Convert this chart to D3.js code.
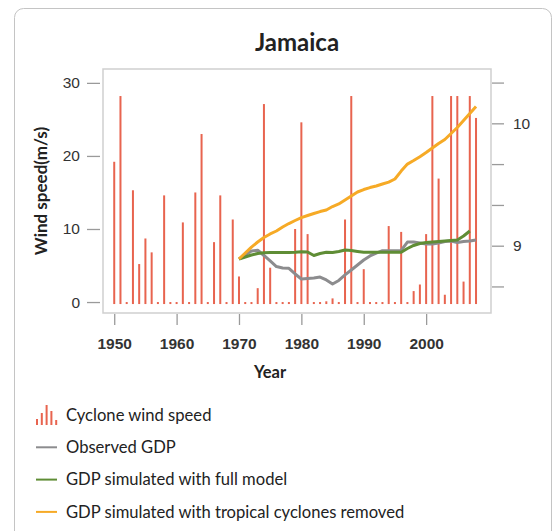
<!DOCTYPE html>
<html>
<head>
<meta charset="utf-8">
<script src="https://cdn.jsdelivr.net/npm/d3@7"></script>
<style>
  body { margin: 0; background: #fff; }
  svg { font-family: "Source Sans Pro", Lato, "Noto Sans", sans-serif; }
</style>
</head>
<body>
<div id="chart"></div>
<script>
var windYears = [1950, 1951, 1952, 1953, 1954, 1955, 1956, 1957, 1958, 1959,
                 1960, 1961, 1962, 1963, 1964, 1965, 1966, 1967, 1968, 1969,
                 1970, 1971, 1972, 1973, 1974, 1975, 1976, 1977, 1978, 1979,
                 1980, 1981, 1982, 1983, 1984, 1985, 1986, 1987, 1988, 1989,
                 1990, 1991, 1992, 1993, 1994, 1995, 1996, 1997, 1998, 1999,
                 2000, 2001, 2002, 2003, 2004, 2005, 2006, 2007, 2008];
var windSpeed = [19.2, 28.2, 0, 15.3, 5.2, 8.7, 6.8, 0, 14.6, 0,
                 0, 10.9, 0, 15.0, 23.0, 0, 8.2, 14.6, 0, 11.3,
                 3.5, 0, 0, 1.9, 27.1, 4.7, 0, 0, 0, 10.0,
                 24.6, 9.3, 0, 0, 0.1, 0.5, 0, 11.3, 28.2, 0,
                 4.5, 0, 0, 0, 10.4, 0, 9.6, 0, 1.5, 2.4,
                 9.3, 28.2, 16.9, 1.0, 28.2, 28.2, 2.8, 28.2, 25.2];

var gdpYears = [1970, 1971, 1972, 1973, 1974, 1975, 1976, 1977, 1978, 1979,
                1980, 1981, 1982, 1983, 1984, 1985, 1986, 1987, 1988, 1989,
                1990, 1991, 1992, 1993, 1994, 1995, 1996, 1997, 1998, 1999,
                2000, 2001, 2002, 2003, 2004, 2005, 2006, 2007, 2008];
var observedGdp = [8.891, 8.924, 8.957, 8.963, 8.920, 8.875, 8.830, 8.818, 8.815, 8.769,
                   8.728, 8.732, 8.736, 8.744, 8.720, 8.687, 8.716, 8.761, 8.801, 8.842,
                   8.883, 8.916, 8.940, 8.959, 8.959, 8.959, 8.961, 9.030, 9.030, 9.022,
                   9.014, 9.014, 9.022, 9.034, 9.038, 9.026, 9.034, 9.038, 9.047];
var fullModelGdp = [8.891, 8.908, 8.924, 8.936, 8.943, 8.944, 8.944, 8.944, 8.944, 8.946,
                    8.951, 8.949, 8.920, 8.936, 8.946, 8.944, 8.953, 8.965, 8.961, 8.953,
                    8.946, 8.946, 8.946, 8.946, 8.946, 8.946, 8.946, 8.977, 9.002, 9.018,
                    9.026, 9.030, 9.034, 9.038, 9.042, 9.047, 9.079, 9.120];
var noCycloneGdp = [8.891, 8.940, 8.989, 9.030, 9.067, 9.096, 9.120, 9.153, 9.181, 9.206,
                    9.230, 9.247, 9.263, 9.279, 9.292, 9.320, 9.341, 9.373, 9.406, 9.439,
                    9.459, 9.475, 9.488, 9.504, 9.520, 9.545, 9.610, 9.667, 9.696, 9.727,
                    9.761, 9.798, 9.835, 9.868, 9.917, 9.966, 10.023, 10.080, 10.137];

var xTicks = [1950, 1960, 1970, 1980, 1990, 2000];
var windTicks = [0, 10, 20, 30];
var gdpTicks = [8.667, 9, 9.333, 9.667, 10, 10.333];
var gdpTickLabels = ["", "9", "", "", "10", ""];

var legendLabels = ["Cyclone wind speed", "Observed GDP",
                    "GDP simulated with full model",
                    "GDP simulated with tropical cyclones removed"];
var legendIconBars = [6, 12, 20, 14, 5];

var width = 560, height = 531;
var margin = { top: 69, right: 69, bottom: 218, left: 103 };
var mwidth = width - margin.left - margin.right;
var mheight = height - margin.top - margin.bottom;

var barColor = "#e8644f",
    observedColor = "#8c8c8e",
    fullColor = "#5f8d35",
    noCycloneColor = "#f6aa26";

var svg = d3.select("#chart").append("svg")
    .attr("width", width)
    .attr("height", height);

// card border
svg.append("rect")
    .attr("x", 14.5).attr("y", 8.5)
    .attr("width", 537).attr("height", 560)
    .attr("rx", 9)
    .attr("fill", "#fff")
    .attr("stroke", "#c4c4c4")
    .attr("stroke-width", 1);

svg.append("text")
    .attr("x", margin.left + mwidth / 2)
    .attr("y", 51)
    .attr("text-anchor", "middle")
    .style("font-size", "24px")
    .style("font-weight", "bold")
    .style("fill", "#222")
    .text("Jamaica");

var xScale = d3.scaleLinear().domain([1948.2, 2010.4]).range([0, mwidth]);
var yWind = d3.scaleLinear().domain([-1.5, 31.9]).range([mheight, 0]);
var yGdp = d3.scaleLinear().domain([8.45, 10.444]).range([mheight, 0]);

var g = svg.append("g")
    .attr("transform", "translate(" + margin.left + "," + margin.top + ")");

// frame
g.append("rect")
    .attr("width", mwidth)
    .attr("height", mheight)
    .attr("fill", "none")
    .attr("stroke", "#cfcfcf")
    .attr("stroke-width", 1.5);

// axes
var leftAxis = g.append("g")
    .attr("transform", "translate(-3,0)")
    .call(d3.axisLeft(yWind).tickValues(windTicks).tickSize(13).tickPadding(7));
var bottomAxis = g.append("g")
    .attr("transform", "translate(0," + (mheight + 1) + ")")
    .call(d3.axisBottom(xScale).tickValues(xTicks).tickFormat(d3.format("d")).tickSize(11).tickPadding(13));
var rightAxis = g.append("g")
    .attr("transform", "translate(" + (mwidth + 1) + ",0)")
    .call(d3.axisRight(yGdp).tickValues(gdpTicks)
        .tickFormat(function(d, i) { return gdpTickLabels[i]; })
        .tickSize(12).tickPadding(9));

[leftAxis, bottomAxis, rightAxis].forEach(function(a) {
    a.select(".domain").remove();
    a.selectAll(".tick line").attr("stroke", "#9a9a9a").attr("stroke-width", 1.3);
    a.selectAll(".tick text").style("fill", "#333").style("font-size", "15.5px");
});
bottomAxis.selectAll(".tick text").style("font-weight", "bold").style("font-size", "15.5px");

// axis titles
g.append("text")
    .attr("transform", "rotate(-90)")
    .attr("x", -mheight / 2)
    .attr("y", -56)
    .attr("text-anchor", "middle")
    .style("font-size", "17px")
    .style("font-weight", "bold")
    .style("fill", "#222")
    .text("Wind speed(m/s)");

g.append("text")
    .attr("x", mwidth / 2 - 27)
    .attr("y", mheight + 65)
    .attr("text-anchor", "middle")
    .style("font-size", "16.5px")
    .style("font-weight", "bold")
    .style("fill", "#222")
    .text("Year");

// wind bars
g.append("g").selectAll("rect")
    .data(windSpeed)
    .join("rect")
    .attr("x", function(d, i) { return xScale(windYears[i]) - 1; })
    .attr("width", 2)
    .attr("y", function(d) { return yWind(d); })
    .attr("height", function(d) { return yWind(0) - yWind(d) + 2; })
    .attr("fill", barColor);

// GDP lines
var series = [
    { values: observedGdp, color: observedColor },
    { values: fullModelGdp, color: fullColor },
    { values: noCycloneGdp, color: noCycloneColor }
];
var line = d3.line()
    .x(function(d) { return xScale(d[0]); })
    .y(function(d) { return yGdp(d[1]); });

series.forEach(function(s) {
    g.append("path")
        .datum(s.values.map(function(v, i) { return [gdpYears[i], v]; }))
        .attr("fill", "none")
        .attr("stroke", s.color)
        .attr("stroke-width", 3)
        .attr("stroke-linejoin", "round")
        .attr("d", line);
});

// legend
var legend = svg.append("g").attr("transform", "translate(35,415)");
var legendColors = [barColor, observedColor, fullColor, noCycloneColor];
legendLabels.forEach(function(label, i) {
    var row = legend.append("g").attr("transform", "translate(0," + (i * 32.3) + ")");
    if (i === 0) {
        row.selectAll("rect")
            .data(legendIconBars)
            .join("rect")
            .attr("x", function(d, j) { return 1 + j * 4.8; })
            .attr("width", 2)
            .attr("y", function(d) { return 10 - d; })
            .attr("height", function(d) { return d; })
            .attr("fill", barColor);
    } else {
        row.append("line")
            .attr("x1", 1).attr("x2", 22)
            .attr("stroke", legendColors[i])
            .attr("stroke-width", 2);
    }
    row.append("text")
        .attr("x", 31)
        .attr("dy", "0.35em")
        .style("font-size", "16.6px")
        .style("fill", "#222")
        .text(label);
});
</script>
</body>
</html>
